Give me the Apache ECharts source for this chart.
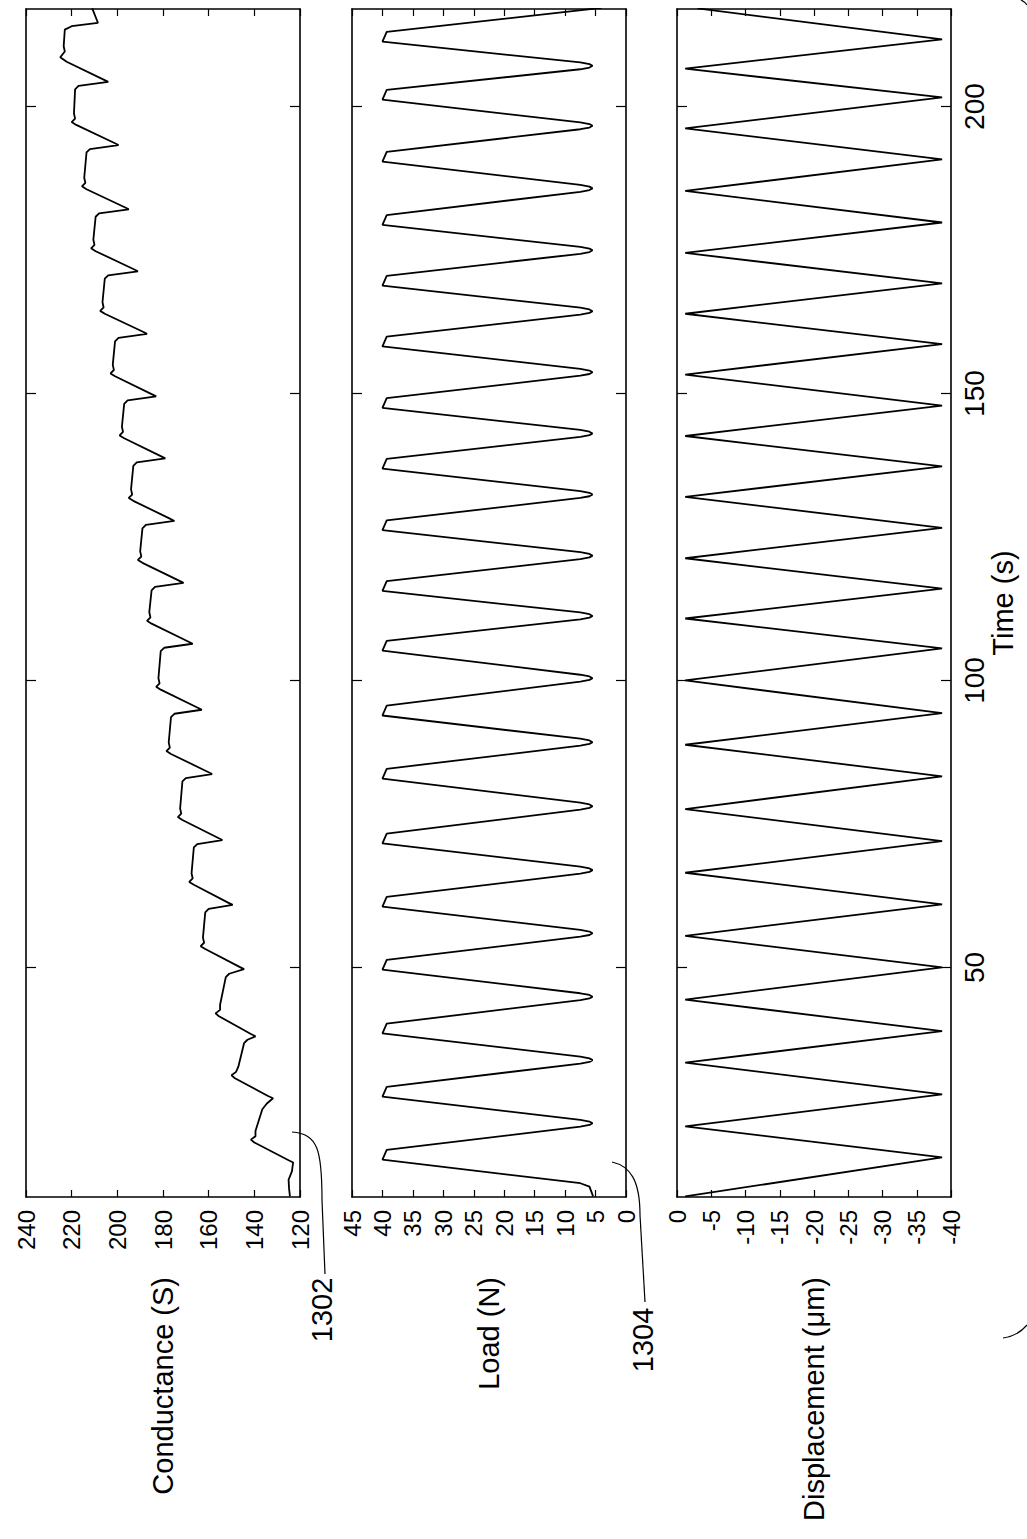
<!DOCTYPE html>
<html>
<head>
<meta charset="utf-8">
<script src="https://cdn.jsdelivr.net/npm/echarts@6/dist/echarts.min.js"></script>
<style>
html,body{margin:0;padding:0;background:#fff;}
#c{width:1027px;height:1539px;}
</style>
</head>
<body>
<div id="c"></div>
<script>
// ---------- data ----------
const timeTicks = [50, 100, 150, 200];

const condTime = [10.1,11.5,13.0,14.5,15.2,
 16.0,16.4,19.5,20.0,20.6,21.5,25.3,26.3,
 27.2,27.6,30.7,31.2,31.8,32.7,36.8,37.4,
 38.0,38.4,41.5,42.0,42.6,43.5,48.3,48.9,
 49.7,50.1,53.2,53.7,54.3,55.2,59.6,60.2,
 60.9,61.3,64.4,64.9,65.5,66.4,70.9,71.5,
 72.2,72.6,75.7,76.2,76.8,77.7,82.4,83.0,
 83.7,84.1,87.2,87.7,88.3,89.2,93.6,94.2,
 94.9,95.3,98.4,98.9,99.5,100.4,105.1,105.7,
 106.4,106.8,109.9,110.4,111.0,111.9,115.7,116.3,
 117.0,117.4,120.5,121.0,121.6,122.5,126.5,127.1,
 127.8,128.2,131.3,131.8,132.4,133.3,137.4,138.0,
 138.7,139.1,142.2,142.7,143.3,144.2,148.2,148.8,
 149.5,149.9,153.0,153.5,154.1,155.0,159.1,159.7,
 160.4,160.8,163.9,164.4,165.0,165.9,170.0,170.6,
 171.3,171.7,174.8,175.3,175.9,176.8,180.8,181.4,
 182.1,182.5,185.6,186.1,186.7,187.6,192.0,192.6,
 193.3,193.7,196.8,197.3,197.9,198.8,203.0,203.6,
 204.3,204.7,207.8,208.6,209.6,210.5,213.4,214.0,
 214.6,215.3,217.1];
const condValue = [124.4,124.8,125,123.5,123.3,
 123,125,140,141.5,139.5,139.5,136.5,134.5,
 131.8,134,148.5,150,148,147,144.5,143,
 139.5,141.5,155.5,157,155,155,152.5,151,
 144.5,146.5,161.5,163.5,162,162.5,161.5,160,
 149.5,151.5,166.5,168.5,167,167.5,166.5,165,
 154,156,171.5,173.5,172,172.5,171.5,170,
 158.5,160.5,176.5,178.5,177,177.5,176.5,175,
 163,165,181,183,181.5,182,181,179.5,
 167,169,185,187,185.5,186,185,183.5,
 171,173,189,191,189.5,190,189,187.5,
 175,177,193,195,193.5,194,193,191.5,
 179,181,197,199,197.5,198,197,195.5,
 183,185,201,203,201.5,202,201,199.5,
 187,189,205.5,207.5,206,206.5,205.5,204,
 191,193,209.5,211.5,210,210.5,209.5,208,
 195,197,213.5,215.5,214,214.5,213.5,212,
 199.5,201.5,218,220,218.5,219,218.5,217,
 204,206,222.2,225,223,223.5,223,220,
 208.5,209.2,211];

const loadTime = [10.1,11.8,12.4,16.5,18.2,
 22.25,22.55,22.85,23.15,23.45,27.5,29.2,
 33.25,33.55,33.85,34.15,34.45,38.5,40.2,
 44.3,44.6,44.9,45.2,45.5,49.6,51.3,
 55.35,55.65,55.95,56.25,56.55,60.6,62.3,
 66.35,66.65,66.95,67.25,67.55,71.6,73.3,
 77.5,77.8,78.1,78.4,78.7,82.9,84.6,
 88.65,88.95,89.25,89.55,89.85,93.9,95.6,
 99.8,100.1,100.4,100.7,101.0,105.2,106.9,
 110.65,110.95,111.25,111.55,111.85,115.6,117.3,
 121.15,121.45,121.75,122.05,122.35,126.2,127.9,
 131.8,132.1,132.4,132.7,133.0,136.9,138.6,
 142.45,142.75,143.05,143.35,143.65,147.5,149.2,
 153.1,153.4,153.7,154.0,154.3,158.2,159.9,
 163.75,164.05,164.35,164.65,164.95,168.8,170.5,
 174.35,174.65,174.95,175.25,175.55,179.4,181.1,
 185.15,185.45,185.75,186.05,186.35,190.4,192.1,
 196.05,196.35,196.65,196.95,197.25,201.2,202.9,
 206.5,206.8,207.1,207.4,207.7,211.3,213.0,
 217.2];
const loadValue = [5.4,6,7.5,40,39.3,
 7.5,6,5.5,6,7.5,40,39.3,
 7.5,6,5.5,6,7.5,40,39.3,
 7.5,6,5.5,6,7.5,40,39.3,
 7.5,6,5.5,6,7.5,40,39.3,
 7.5,6,5.5,6,7.5,40,39.3,
 7.5,6,5.5,6,7.5,40,39.3,
 7.5,6,5.5,6,7.5,40,39.3,
 7.5,6,5.5,6,7.5,40,39.3,
 7.5,6,5.5,6,7.5,40,39.3,
 7.5,6,5.5,6,7.5,40,39.3,
 7.5,6,5.5,6,7.5,40,39.3,
 7.5,6,5.5,6,7.5,40,39.3,
 7.5,6,5.5,6,7.5,40,39.3,
 7.5,6,5.5,6,7.5,40,39.3,
 7.5,6,5.5,6,7.5,40,39.3,
 7.5,6,5.5,6,7.5,40,39.3,
 7.5,6,5.5,6,7.5,40,39.3,
 7.5,6,5.5,6,7.5,40,39.3,
 4];

const dispTime = [10.1,16.9,22.3,27.9,33.4,38.9,44.4,50.0,55.5,61.0,66.5,72.0,77.6,83.3,88.8,94.3,100.0,105.6,110.8,116.0,121.3,126.6,132.0,137.3,142.6,147.9,153.3,158.6,163.9,169.2,174.5,179.8,185.3,190.8,196.2,201.6,206.6,211.7,217.1];
const dispValue = [-1.2,-38.7,-1.2,-38.7,-1.2,-38.7,-1.2,-38.7,-1.2,-38.7,-1.2,-38.7,-1.2,-38.7,-1.2,-38.7,-1.2,-38.7,-1.2,-38.7,-1.2,-38.7,-1.2,-38.7,-1.2,-38.7,-1.2,-38.7,-1.2,-38.7,-1.2,-38.7,-1.2,-38.7,-1.2,-38.7,-1.2,-38.7,-3];

// ---------- chart ----------
const FONT = "'Liberation Sans', Arial, sans-serif";
const panels = [
  {left: 26,  min: 120, max: 240, interval: 20, name: 'Conductance (S)', t: condTime, v: condValue},
  {left: 352, min: 0,   max: 45,  interval: 5,  name: 'Load (N)',        t: loadTime, v: loadValue},
  {left: 677, min: -40, max: 0,   interval: 5,  name: 'Displacement (\u03bcm)', t: dispTime, v: dispValue}
];
const TMIN = 10, TMAX = 217;
const black = '#000';

const grid = [], xAxis = [], yAxis = [], series = [];
panels.forEach((p, i) => {
  grid.push({left: p.left, top: 9, width: 274, height: 1188, show: false});
  const common = {
    gridIndex: i, type: 'value', min: p.min, max: p.max, interval: p.interval, inverse: true,
    axisLine: {show: true, onZero: false, lineStyle: {color: black, width: 1.6}},
    axisTick: {show: true, inside: true, length: 7, lineStyle: {color: black, width: 1.2}},
    splitLine: {show: false}
  };
  xAxis.push(Object.assign({}, common, {
    position: 'bottom',
    axisLabel: {show: true, rotate: 90, margin: 13, fontSize: 24, color: black, fontFamily: FONT},
    name: p.name, nameLocation: 'middle', nameGap: 80, nameRotate: 90,
    nameTextStyle: {fontSize: 29, color: black, fontFamily: FONT}
  }));
  xAxis.push(Object.assign({}, common, {position: 'top', axisLabel: {show: false}}));
  const ycommon = {
    gridIndex: i, type: 'value', min: TMIN, max: TMAX,
    axisLine: {show: true, onZero: false, lineStyle: {color: black, width: 1.6}},
    axisTick: {show: true, inside: true, length: 10, customValues: timeTicks, lineStyle: {color: black, width: 1.2}},
    splitLine: {show: false}
  };
  yAxis.push(Object.assign({}, ycommon, {
    position: 'right',
    axisLabel: {show: i === 2, customValues: timeTicks, rotate: 90, margin: 9, fontSize: 28, color: black, fontFamily: FONT},
    name: i === 2 ? 'Time (s)' : '', nameLocation: 'middle', nameGap: 37, nameRotate: 90,
    nameTextStyle: {fontSize: 29, color: black, fontFamily: FONT}
  }));
  yAxis.push(Object.assign({}, ycommon, {position: 'left', axisLabel: {show: false}}));
  series.push({
    type: 'line', xAxisIndex: 2 * i, yAxisIndex: 2 * i, showSymbol: false, clip: true,
    lineStyle: {color: black, width: 1.8}, silent: true,
    data: p.t.map((t, k) => [p.v[k], t])
  });
});

const lineStyle = {stroke: black, lineWidth: 1.2, fill: null};
const chart = echarts.init(document.getElementById('c'), null, {renderer: 'svg'});
chart.setOption({
  animation: false,
  backgroundColor: '#fff',
  grid, xAxis, yAxis, series,
  graphic: [
    {type: 'bezierCurve', shape: {x1: 292, y1: 1132, cpx1: 318, cpy1: 1134, cpx2: 322, cpy2: 1150, x2: 322, y2: 1200}, style: lineStyle},
    {type: 'line', shape: {x1: 322, y1: 1200, x2: 325, y2: 1274}, style: lineStyle},
    {type: 'text', x: 322, y: 1310, rotation: Math.PI / 2, style: {text: '1302', font: '29px ' + FONT, fill: black, textAlign: 'center', textVerticalAlign: 'middle'}},
    {type: 'bezierCurve', shape: {x1: 612, y1: 1162, cpx1: 630, cpy1: 1166, cpx2: 640, cpy2: 1180, x2: 640, y2: 1215}, style: lineStyle},
    {type: 'line', shape: {x1: 640, y1: 1215, x2: 645, y2: 1302}, style: lineStyle},
    {type: 'text', x: 643, y: 1340, rotation: Math.PI / 2, style: {text: '1304', font: '29px ' + FONT, fill: black, textAlign: 'center', textVerticalAlign: 'middle'}},
    {type: 'bezierCurve', shape: {x1: 1003, y1: 1338, cpx1: 1018, cpy1: 1336, x2: 1027, y2: 1325}, style: lineStyle},
    {type: 'bezierCurve', shape: {x1: 1021, y1: 0, cpx1: 1025, cpy1: 2, x2: 1027, y2: 5}, style: lineStyle}
  ]
});
</script>
</body>
</html>
